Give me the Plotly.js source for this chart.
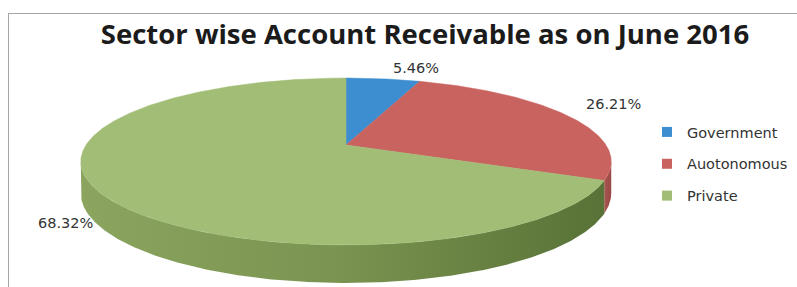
<!DOCTYPE html>
<html>
<head>
<meta charset="utf-8">
<script src="https://cdn.plot.ly/plotly-3.0.1.min.js"></script>
<style>html,body{margin:0;padding:0;background:#fff;}#chart{width:797px;height:287px;}</style>
</head>
<body>
<div id="chart"></div>
<script>
// ---- data ----
const categories = ["Government", "Auotonomous", "Private"];
const values = [5.46, 26.21, 68.32];
const chartTitle = "Sector wise Account Receivable as on June 2016";

// ---- style ----
const topColors = ["#3d8ed1", "#c8635f", "#a2bd76"];
const sideColors = [
  [["0", "#2f6fa5"], ["1", "#2a6192"]],
  [["0", "#a8534f"], ["1", "#9a4a46"]],
  [["0", "#8ba55f"], ["0.5", "#7a9350"], ["1", "#587237"]]
];
const labelShift = [[33, 11], [46, 12], [-36, -29]];
const labelFont = {family: "DejaVu Sans", size: 14.5, color: "#333333"};

// geometry of the tilted pie (pixel space)
const cx = 346, cy = 145, A = 260, B = 80.2, K = 0.1976, D = 30.5;

function proj(t, drop) {
  const X = Math.sin(t), Z = Math.cos(t);
  const f = 1 / (1 + K * Z);
  return [cx + A * X * f, cy - B * Z * f + D * f * drop];
}
function arc(t0, t1, drop) {
  const n = Math.max(2, Math.ceil(Math.abs(t1 - t0) / (Math.PI / 360)));
  const xs = [], ys = [];
  for (let i = 0; i <= n; i++) {
    const p = proj(t0 + (t1 - t0) * i / n, drop);
    xs.push(p[0]); ys.push(p[1]);
  }
  return [xs, ys];
}

const total = values.reduce((a, b) => a + b, 0);
const bounds = [];
let acc = 0;
values.forEach(v => {
  const t0 = acc / total * 2 * Math.PI;
  acc += v;
  const t1 = acc / total * 2 * Math.PI;
  bounds.push([t0, t1]);
});

const tR = Math.acos(-K), tL = 2 * Math.PI - Math.acos(-K);
const traces = [];

// sides
bounds.forEach((b, i) => {
  const a0 = Math.max(b[0], tR), a1 = Math.min(b[1], tL);
  if (a1 <= a0) return;
  const top = arc(a0, a1, 0), bot = arc(a1, a0, 1);
  const xs = top[0].concat(bot[0]); xs.push(top[0][0]);
  const ys = top[1].concat(bot[1]); ys.push(top[1][0]);
  traces.push({
    type: "scatter", mode: "lines", x: xs, y: ys, fill: "toself",
    fillcolor: sideColors[i][1][1],
    fillgradient: {type: "horizontal", colorscale: sideColors[i].map(s => [parseFloat(s[0]), s[1]])},
    line: {width: 0, color: "rgba(0,0,0,0)"}, showlegend: false, hoverinfo: "skip"
  });
});

// top faces
bounds.forEach((b, i) => {
  const a = arc(b[0], b[1], 0);
  const xs = [cx].concat(a[0], [cx]);
  const ys = [cy].concat(a[1], [cy]);
  traces.push({
    type: "scatter", mode: "lines", x: xs, y: ys, fill: "toself",
    fillcolor: topColors[i], line: {width: 0.5, color: topColors[i]},
    showlegend: false, hoverinfo: "skip"
  });
});

// legend entries
categories.forEach((c, i) => {
  traces.push({
    type: "scatter", mode: "markers", x: [null], y: [null], name: c,
    legendgroup: "g" + i,
    marker: {symbol: "square", size: 10, color: topColors[i]}, showlegend: true
  });
});

// data labels
const annotations = bounds.map((b, i) => {
  const m = (b[0] + b[1]) / 2;
  const p = proj(m, 0);
  return {
    x: p[0], y: p[1], xref: "x", yref: "y", showarrow: false,
    text: values[i].toFixed(2) + "%", font: labelFont,
    xanchor: "center", yanchor: "middle",
    xshift: labelShift[i][0], yshift: labelShift[i][1]
  };
});

const layout = {
  width: 797, height: 287,
  margin: {l: 0, r: 0, t: 0, b: 0},
  paper_bgcolor: "#ffffff", plot_bgcolor: "#ffffff",
  xaxis: {range: [0, 797], visible: false, fixedrange: true},
  yaxis: {range: [287, 0], visible: false, fixedrange: true},
  title: {
    text: chartTitle,
    font: {family: "Open Sans", size: 27.5, weight: 700, color: "#1b1b1b"},
    x: 425 / 797, xanchor: "center", xref: "paper",
    y: 1 - 34 / 287, yanchor: "middle", yref: "paper"
  },
  showlegend: true,
  legend: {
    x: 647 / 797, xanchor: "left", y: 1 - 116 / 287, yanchor: "top",
    font: labelFont, bgcolor: "rgba(0,0,0,0)",
    traceorder: "grouped", tracegroupgap: 10
  },
  annotations: annotations,
  shapes: [
    {type: "line", xref: "x", yref: "y", x0: 8, y0: 13.5, x1: 797, y1: 13.5, line: {color: "#a6a6a6", width: 1}},
    {type: "line", xref: "x", yref: "y", x0: 8.5, y0: 13, x1: 8.5, y1: 287, line: {color: "#a6a6a6", width: 1}}
  ],
  hovermode: false
};

Plotly.newPlot("chart", traces, layout, {staticPlot: true, displayModeBar: false});
</script>
</body>
</html>
